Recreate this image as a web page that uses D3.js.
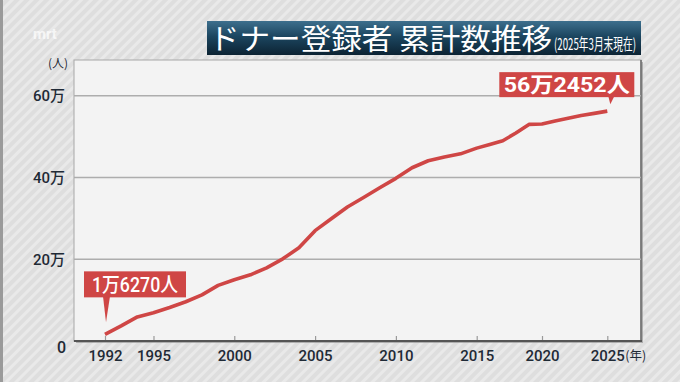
<!DOCTYPE html>
<html><head><meta charset="utf-8">
<script src="https://cdn.jsdelivr.net/npm/d3@7"></script>
<style>body{margin:0;background:#e2e2e2;} svg{display:block}</style>
</head><body><svg id="c" width="680" height="382"></svg>
<script>
const years = [1992,1993,1994,1995,1996,1997,1998,1999,2000,2001,2002,2003,2004,2005,2006,2007,2008,2009,2010,2011,2012,2013,2014,2015,2016,2017,2018,2019,2020,2021,2022,2023,2024,2025];
const values = [16270,37000,59000,69000,82000,96000,113000,136000,150000,162000,179000,201000,228000,270000,299000,328000,351000,375000,398000,424000,441000,450000,458000,472000,481000,490000,509000,530000,531000,538500,545000,552000,557000,562452];
const yTicks = [0,200000,400000,600000];
const yTickLabels = ["0","20万","40万","60万"];
const xTicks = [1992,1995,2000,2005,2010,2015,2020,2025];
const xTickLabels = ["1992","1995","2000","2005","2010","2015","2020","2025"];
const titleMain = "ドナー登録者 累計数推移";
const titleSub = "(2025年3月末現在)";
const yUnit = "(人)";
const xUnit = "(年)";
const firstLabel = "1万6270人";
const lastLabel = "56万2452人";

const svg = d3.select("#c");
const W = 680, H = 382;
const plot = {left:74, right:641, top:60, bottom:341};

const defs = svg.append("defs");
const pat = defs.append("pattern").attr("id","stripes").attr("patternUnits","userSpaceOnUse")
  .attr("width",7).attr("height",7).attr("patternTransform","rotate(45)");
pat.append("rect").attr("width",7).attr("height",7).attr("fill","#dedede");
pat.append("rect").attr("width",3).attr("height",7).attr("fill","#e9e9e9");
const grad = defs.append("linearGradient").attr("id","tg").attr("x1",0).attr("y1",0).attr("x2",0).attr("y2",1);
grad.append("stop").attr("offset","0%").attr("stop-color","#3d6f8d");
grad.append("stop").attr("offset","45%").attr("stop-color","#1c4660");
grad.append("stop").attr("offset","100%").attr("stop-color","#0c2333");

svg.append("rect").attr("width",W).attr("height",H).attr("fill","url(#stripes)");
svg.append("rect").attr("x",0).attr("y",0).attr("width",3).attr("height",H).attr("fill","#9a9a9a");

// watermark
svg.append("text").attr("x",33).attr("y",39).attr("fill","#ffffff").attr("opacity",0.7)
  .attr("font-family","Roboto, sans-serif").attr("font-weight",700).attr("font-size",15).text("mrt");

// title
svg.append("rect").attr("x",207).attr("y",21).attr("width",434).attr("height",34).attr("fill","url(#tg)");
svg.append("text").attr("x",209).attr("y",50).attr("fill","#fff")
  .attr("font-family","'Noto Sans CJK JP', sans-serif").attr("font-size",29).attr("font-weight",400)
  .attr("textLength",343).attr("lengthAdjust","spacingAndGlyphs").text(titleMain);
const sub = svg.append("text").attr("fill","#fff")
  .attr("font-family","'Noto Sans CJK JP', sans-serif").attr("font-size",15.5).text(titleSub);
const sw = sub.node().getComputedTextLength();
sub.attr("transform",`translate(554,50) scale(${82/sw},1)`);

const x = d3.scaleLinear().domain([1992,2015,2025]).range([105,476.7,607.3]);
const y = d3.scaleLinear().domain([0,600000]).range([plot.bottom,95.8]);

// plot panel with shadow
svg.append("rect").attr("x",plot.left+2).attr("y",plot.top+2).attr("width",plot.right-plot.left).attr("height",plot.bottom-plot.top)
  .attr("fill","#8a8a8a").attr("opacity",0.6);
svg.append("rect").attr("x",plot.left).attr("y",plot.top).attr("width",plot.right-plot.left).attr("height",plot.bottom-plot.top)
  .attr("fill","#f3f3f3").attr("stroke","#a8a8a8").attr("stroke-width",1);
svg.append("line").attr("x1",plot.right).attr("x2",plot.right).attr("y1",plot.top).attr("y2",plot.bottom)
  .attr("stroke","#6a6a6a").attr("stroke-width",1.5);

// gridlines
svg.append("g").selectAll("line").data(yTicks.slice(1)).join("line")
  .attr("x1",plot.left).attr("x2",plot.right).attr("y1",d=>y(d)).attr("y2",d=>y(d))
  .attr("stroke","#adadad").attr("stroke-width",1.5);

// x axis
const xAxis = d3.axisBottom(x).tickValues(xTicks).tickSize(-5).tickPadding(7).tickFormat((d,i)=>xTickLabels[i]);
const gx = svg.append("g").attr("transform",`translate(0,${plot.bottom})`).call(xAxis);
gx.select(".domain").remove();
gx.append("line").attr("x1",plot.left).attr("x2",plot.right+1).attr("y1",0).attr("y2",0).attr("stroke","#555").attr("stroke-width",2);
gx.selectAll(".tick line").attr("stroke","#9a9a9a").attr("stroke-width",1.2);
gx.selectAll(".tick text").attr("fill","#1f2a36").attr("font-family","Roboto, sans-serif").attr("font-weight",500).attr("font-size",15)
  .attr("y",9).attr("dy","0.71em");
svg.append("text").attr("x",x(2025)+18).attr("y",360).attr("fill","#1f2a36")
  .attr("font-family","'Noto Sans CJK JP', sans-serif").attr("font-size",12.5).text(xUnit);

// y axis labels
const yAxis = d3.axisLeft(y).tickValues(yTicks).tickSize(0).tickPadding(9).tickFormat((d,i)=>yTickLabels[i]);
const gy = svg.append("g").attr("transform",`translate(${plot.left},0)`).call(yAxis);
gy.select(".domain").remove();
gy.selectAll(".tick text").attr("fill","#1f2a36").attr("font-family","Roboto, 'Noto Sans CJK JP', sans-serif").attr("font-weight",500).attr("font-size",15);
gy.selectAll(".tick").filter(d=>d===0).select("text").attr("x",-8).attr("dy","0.7em").attr("font-size",16);
svg.append("text").attr("x",68).attr("y",68).attr("text-anchor","end").attr("fill","#1f2a36")
  .attr("font-family","'Noto Sans CJK JP', sans-serif").attr("font-size",12).text(yUnit);

// line
const line = d3.line().x((d,i)=>x(years[i])).y(d=>y(d));
svg.append("path").datum(values).attr("d",line).attr("fill","none")
  .attr("stroke","#cf4645").attr("stroke-width",3.6).attr("stroke-linejoin","round");

// callouts
const red = "#cf4645";
function callout(bx,by,bw,bh,tipX,tipY,baseL,baseR,label,fs,tl,fw){
  svg.append("path").attr("d",`M${baseL},${by+bh-1}L${tipX},${tipY}L${baseR},${by+bh-1}Z`).attr("fill",red);
  svg.append("rect").attr("x",bx).attr("y",by).attr("width",bw).attr("height",bh).attr("fill",red);
  svg.append("text").attr("x",bx+bw/2).attr("y",by+bh/2).attr("dy","0.36em").attr("text-anchor","middle")
    .attr("fill","#fff").attr("font-family","Roboto, 'Noto Sans CJK JP', sans-serif").attr("font-weight",fw)
    .attr("font-size",fs).attr("textLength",tl).attr("lengthAdjust","spacingAndGlyphs").text(label);
}
const fx = x(years[0]), fy = y(values[0]);
callout(fx-21, fy-63, 102, 26, fx+1, fy-12, fx-2, fx+5, firstLabel, 20, 86, 500);
const lx = x(years[years.length-1]), ly = y(values[values.length-1]);
callout(lx-108, ly-39, 135, 25, lx+3, ly-7, lx+1, lx+7, lastLabel, 21, 126, 700);
</script></body></html>
